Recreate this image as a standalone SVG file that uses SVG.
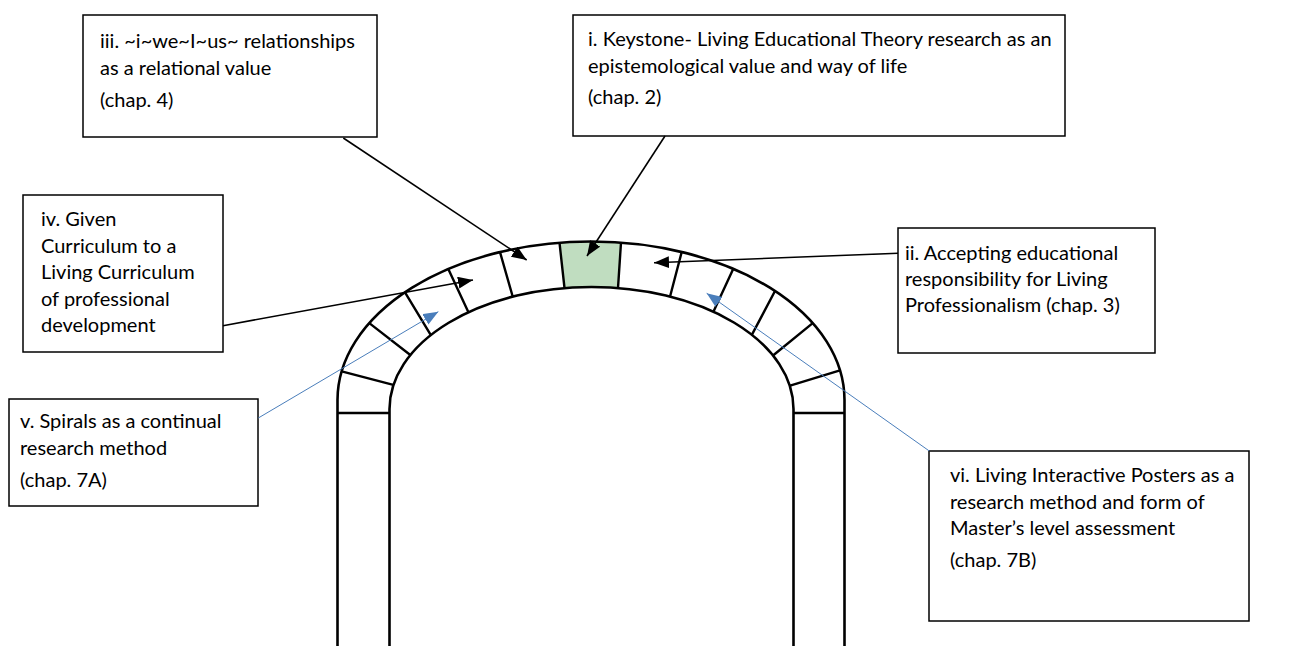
<svg xmlns="http://www.w3.org/2000/svg" width="1310" height="646" viewBox="0 0 1310 646">
<defs>
<style>
.box{fill:#fff;stroke:#000;stroke-width:1.5}
.t{font-family:Lato,"Liberation Sans",sans-serif;font-size:20px;fill:#000}
.arch{fill:none;stroke:#000;stroke-width:2.6}
.seg{stroke:#000;stroke-width:2.4;fill:none}
.blk{stroke:#000;stroke-width:1.6;fill:none}
.blu{stroke:#4a7ebb;stroke-width:1;fill:none}
</style>
<marker id="ab" markerUnits="userSpaceOnUse" markerWidth="16" markerHeight="14" refX="15" refY="6" orient="auto"><path d="M0,0 L15,6 L0,12 Z" fill="#000"/></marker>
<marker id="au" markerUnits="userSpaceOnUse" markerWidth="16" markerHeight="14" refX="15" refY="6" orient="auto"><path d="M0,0 L15,6 L0,12 Z" fill="#4a7ebb"/></marker>
</defs>
<rect width="1310" height="646" fill="#fff"/>
<g id="arch-shape">
<path d="M559.5,242.7 A253.5,158.5 0 0 1 621,242.6 L618,288.1 A202,122 0 0 0 564.5,288 Z" fill="#c0ddc0"/>
<path class="seg" d="M341.7,371.3 L393.3,384.8 M369.3,323.1 L410,354.8 M405,292.3 L430.7,334.8 M448.3,269 L468.3,312.1 M500,252.1 L512.7,296.5 M559.5,242.7 L564.5,288 M621,242.6 L618,288.1 M681.7,252 L670,296.7 M733.3,268.8 L713.3,311.9 M775,291 L751.7,335.1 M812.7,323.1 L772.7,355.7 M840,370.3 L789.3,385.8 M337.5,413 L389.5,413 M793.5,413 L844.5,413"/>
<path class="arch" d="M337.5,646 V400 A253.5,158.5 0 0 1 844.5,400 V646"/>
<path class="arch" d="M389.5,646 V409 A202,122 0 0 1 793.5,409 V646"/>
</g>
<g id="node-iii">
<rect class="box" x="83" y="15" width="294" height="122"/>
<text class="t" x="100" y="48">iii. ~i~we~I~us~ relationships</text>
<text class="t" x="100" y="75">as a relational value</text>
<text class="t" x="100" y="107">(chap. 4)</text>
</g>
<g id="node-i">
<rect class="box" x="573" y="15" width="492" height="121"/>
<text class="t" x="588" y="46">i. Keystone- Living Educational Theory research as an</text>
<text class="t" x="588" y="72.5">epistemological value and way of life</text>
<text class="t" x="588" y="104">(chap. 2)</text>
</g>
<g id="node-iv">
<rect class="box" x="23" y="195" width="200" height="157"/>
<text class="t" x="41" y="226">iv. Given</text>
<text class="t" x="41" y="252.5">Curriculum to a</text>
<text class="t" x="41" y="279">Living Curriculum</text>
<text class="t" x="41" y="305.5">of professional</text>
<text class="t" x="41" y="332">development</text>
</g>
<g id="node-ii">
<rect class="box" x="898" y="228" width="257" height="125"/>
<text class="t" x="905" y="260">ii. Accepting educational</text>
<text class="t" x="905" y="286">responsibility for Living</text>
<text class="t" x="905" y="312">Professionalism (chap. 3)</text>
</g>
<g id="node-v">
<rect class="box" x="9" y="399" width="249" height="107"/>
<text class="t" x="20" y="428">v. Spirals as a continual</text>
<text class="t" x="20" y="455">research method</text>
<text class="t" x="20" y="487">(chap. 7A)</text>
</g>
<g id="node-vi">
<rect class="box" x="929" y="451" width="320" height="170"/>
<text class="t" x="950" y="482">vi. Living Interactive Posters as a</text>
<text class="t" x="950" y="508.5">research method and form of</text>
<text class="t" x="950" y="535">Master’s level assessment</text>
<text class="t" x="950" y="567">(chap. 7B)</text>
</g>
<g id="connectors">
<line class="blk" x1="343.3" y1="138" x2="526.7" y2="260" marker-end="url(#ab)"/>
<line class="blk" x1="665" y1="136" x2="587" y2="256" marker-end="url(#ab)"/>
<line class="blk" x1="898" y1="253.3" x2="654" y2="262.7" marker-end="url(#ab)"/>
<line class="blk" x1="223" y1="325.7" x2="473" y2="280" marker-end="url(#ab)"/>
<line class="blu" x1="258.3" y1="418" x2="438.3" y2="311.7" marker-end="url(#au)"/>
<line class="blu" x1="929.3" y1="451" x2="706.7" y2="293.3" marker-end="url(#au)"/>
</g>
</svg>
